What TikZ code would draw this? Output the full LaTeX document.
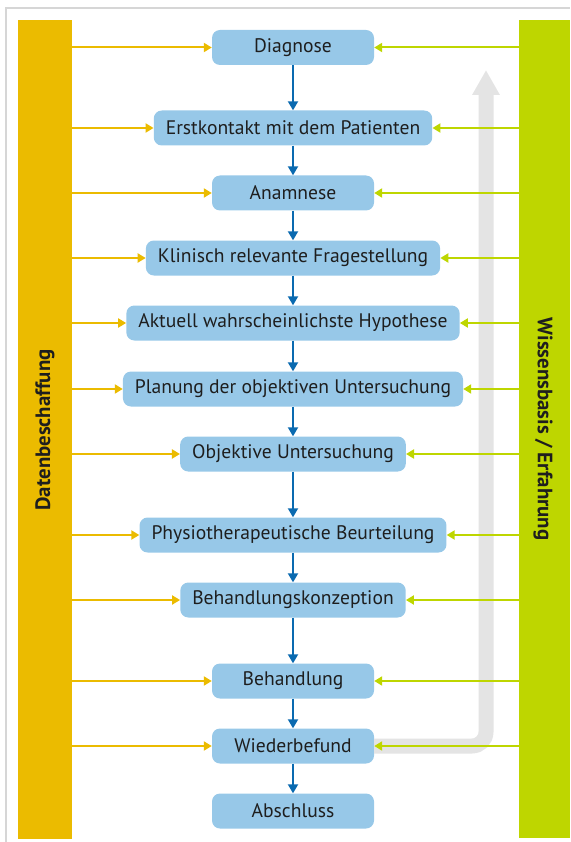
\documentclass[tikz,border=0pt]{standalone}
\usepackage{fontspec}
\setmainfont{PT Sans}
\usetikzlibrary{arrows.meta,calc}
\definecolor{DataClr}{RGB}{235,187,0}
\definecolor{KnowClr}{RGB}{190,214,0}
\definecolor{BoxClr}{RGB}{151,200,232}
\definecolor{FlowClr}{RGB}{10,106,176}
\definecolor{BackClr}{RGB}{228,228,228}
\definecolor{FrameClr}{RGB}{214,214,214}
\definecolor{TextClr}{RGB}{30,30,30}

\begin{document}
\begin{tikzpicture}[x=1pt,y=-1pt,
  stepbox/.style={fill=BoxClr,rounded corners=8pt,minimum width=162pt,minimum height=35pt,
    inner xsep=12pt,text=TextClr,font=\fontsize{19.6}{22}\selectfont},
  barlabel/.style={text=TextClr,font=\fontsize{20.8}{24}\selectfont\bfseries},
  flow/.style={FlowClr,line width=2pt,-{Triangle[length=9pt,width=10pt]}},
  feed/.style={line width=2pt,-{Triangle[length=8pt,width=9pt]}}]
\useasboundingbox (0,0) rectangle (570,842);

\draw[FrameClr,line width=2pt] (5.7,842) -- (5.7,8.3) -- (570,8.3);

\node[fill=DataClr,minimum width=54pt,minimum height=819pt,inner sep=0pt] (data) at (45,429.5) {};
\node[fill=KnowClr,minimum width=51pt,minimum height=818pt,inner sep=0pt] (know) at (544.5,429) {};
\node[barlabel,rotate=90] (datalbl) at (45,430) {Datenbeschaffung};
\node[barlabel,rotate=-90] (knowlbl) at (543,429) {Wissensbasis / Erfahrung};

\node[stepbox] (diag) at (293,47.5) {Diagnose};
\node[stepbox] (erst) at (293,128) {Erstkontakt mit dem Patienten};
\node[stepbox] (anam) at (293,193) {Anamnese};
\node[stepbox] (frage) at (293,258) {Klinisch relevante Fragestellung};
\node[stepbox] (hypo) at (293,323) {Aktuell wahrscheinlichste Hypothese};
\node[stepbox] (plan) at (293,389) {Planung der objektiven Untersuchung};
\node[stepbox] (unters) at (293,454) {Objektive Untersuchung};
\node[stepbox] (beurt) at (293,535) {Physiotherapeutische Beurteilung};
\node[stepbox] (konz) at (293,600) {Behandlungskonzeption};
\node[stepbox] (behand) at (293,681) {Behandlung};
\node[stepbox] (wieder) at (293,746) {Wiederbefund};
\node[stepbox] (absch) at (293,811) {Abschluss};

\coordinate (back) at (486,70);
\draw[BackClr,line width=15pt,rounded corners=14pt,-{Triangle[length=25pt,width=26pt]}]
  (wieder.east) -- (wieder.east -| back) -- (back);

\foreach \a/\b in {diag/erst,erst/anam,anam/frage,frage/hypo,hypo/plan,plan/unters,
  unters/beurt,beurt/konz,konz/behand,behand/wieder,wieder/absch}
  \draw[flow] (\a.south) -- (\b.north);

\foreach \n in {diag,erst,anam,frage,hypo,plan,unters,beurt,konz,behand,wieder}{
  \draw[feed,DataClr] (data.east |- \n.west) -- (\n.west);
  \draw[feed,KnowClr] (know.west |- \n.east) -- (\n.east);
}

\end{tikzpicture}
\end{document}
